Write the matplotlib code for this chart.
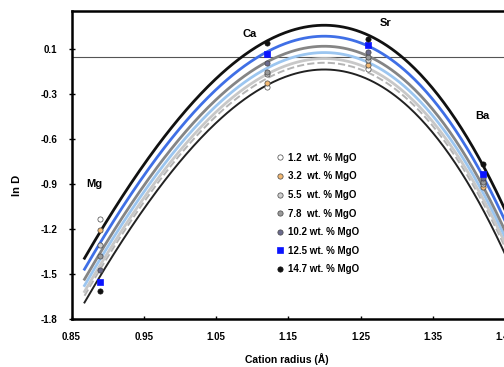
import numpy as np
import matplotlib
matplotlib.use("Agg")
import matplotlib.pyplot as plt
from matplotlib.lines import Line2D

plt.rcParams["font.family"] = ["Liberation Sans", "DejaVu Sans"]
plt.rcParams["font.weight"] = "bold"

# ---------------------------------------------------------------------------
# Data
# ---------------------------------------------------------------------------
cations = ["Mg", "Ca", "Sr", "Ba"]
radii = [0.89, 1.12, 1.26, 1.42]          # cation radius (Å)

mgo_labels = ["1.2  wt. % MgO", "3.2  wt. % MgO", "5.5  wt. % MgO",
              "7.8  wt. % MgO", "10.2 wt. % MgO", "12.5 wt. % MgO",
              "14.7 wt. % MgO"]

lnD_12 = [-1.079, -0.201, -0.079, -0.843]
lnD_32 = [-1.152, -0.175, -0.057, -0.868]
lnD_55 = [-1.257, -0.115, -0.023, -0.850]
lnD_78 = [-1.330, -0.101, -0.001, -0.835]
lnD_102 = [-1.423, -0.041, 0.032, -0.810]
lnD_125 = [-1.501, 0.017, 0.081, -0.779]
lnD_147 = [-1.561, 0.092, 0.121, -0.712]
lnD_all = [lnD_12, lnD_32, lnD_55, lnD_78, lnD_102, lnD_125, lnD_147]

# lattice strain fit parameters (one per composition)
lnD0 = [-0.085, -0.040, -0.012, 0.028, 0.070, 0.137, 0.210]
r0 = [1.20, 1.20, 1.20, 1.20, 1.20, 1.20, 1.20]
E_gpa = [46.6, 46.6, 46.6, 46.6, 46.6, 46.6, 46.6]
T_K = 1473.0
fit_range = (0.868, 1.47)

# ---------------------------------------------------------------------------
# Styles
# ---------------------------------------------------------------------------
marker_face = ["#ffffff", "#f2b872", "#cfcfcf", "#9a9a9a", "#6b6b8e", "#0a14ff", "#111111"]
marker_shape = ["o", "o", "o", "o", "o", "s", "o"]
curve_color = ["#222222", "#b4b4b4", "#c8c8c8", "#9cc6f0", "#858585", "#3f6fe6", "#111111"]
curve_style = ["-", "--", "-", "-", "-", "-", "-"]
curve_width = [1.4, 1.4, 2.0, 2.0, 2.0, 2.0, 2.0]


def lattice_strain(r, lnd0, rr0, e):
    k = 4 * np.pi * 6.022e23 * 1e-21 / (8.314 * T_K)
    d = r - rr0
    return lnd0 - k * e * (rr0 / 2 * d ** 2 + d ** 3 / 3)


W, H = 504, 367
fig = plt.figure(figsize=(W / 100, H / 100), dpi=100)
ax = fig.add_axes([71.5 / W, 1 - 319.3 / H, (505 - 71.5) / W, (319.3 - 11) / H])

ax.axhline(0, color="#555555", lw=0.8, zorder=1)

r = np.linspace(fit_range[0], fit_range[1], 300)
for i in range(len(lnD0)):
    ax.plot(r, lattice_strain(r, lnD0[i], r0[i], E_gpa[i]), color=curve_color[i],
            ls=curve_style[i], lw=curve_width[i], zorder=2, clip_on=False)

handles = []
for i, vals in enumerate(lnD_all):
    ax.scatter(radii, vals, s=14, marker=marker_shape[i], facecolor=marker_face[i],
               edgecolor="#444444" if i < 5 else marker_face[i], linewidth=0.5, zorder=4)
    handles.append(Line2D([], [], ls="none", marker=marker_shape[i], markersize=3.8,
                          markerfacecolor=marker_face[i], markeredgewidth=0.5,
                          markeredgecolor="#444444" if i < 5 else marker_face[i],
                          label=mgo_labels[i]))

ax.legend(handles=handles, loc="upper left", bbox_to_anchor=(272 / W, 1 - 148 / H),
          bbox_transform=fig.transFigure, frameon=False, fontsize=7,
          handlelength=0.6, handletextpad=0.5, labelspacing=0.88, borderpad=0)

# element labels
label_pos = {"Mg": (0.882, -0.85), "Ca": (1.096, 0.155), "Sr": (1.285, 0.225), "Ba": (1.418, -0.395)}
for name, (x, y) in label_pos.items():
    ax.text(x, y, name, fontsize=8, fontweight="bold", ha="center", va="center")

ax.set_xlim(0.85, 1.45)
ax.set_ylim(-1.75, 0.305)
ax.set_xticks([0.85, 0.95, 1.05, 1.15, 1.25, 1.35, 1.45])
ax.set_xticklabels(["0.85", "0.95", "1.05", "1.15", "1.25", "1.35", "1.45"])
ax.set_yticks([-1.75, -1.45, -1.15, -0.85, -0.55, -0.25, 0.05])
ax.set_yticklabels(["-1.8", "-1.5", "-1.2", "-0.9", "-0.6", "-0.3", "0.1"])
ax.tick_params(axis="y", direction="inout", length=5, width=1, pad=7.5, labelsize=7)
ax.tick_params(axis="x", direction="in", length=2, width=1, pad=9.5, labelsize=7)

for s in ["left", "bottom", "top"]:
    ax.spines[s].set_linewidth(1.8)
ax.spines["right"].set_visible(False)

fig.text(17 / W, 1 - 185 / H, "ln D", rotation=90, ha="center", va="center",
         fontsize=8, fontweight="bold")
fig.text(287 / W, 1 - 359 / H, "Cation radius (Å)", ha="center", va="center",
         fontsize=7.5, fontweight="bold")

fig.savefig("out.png", dpi=100)
